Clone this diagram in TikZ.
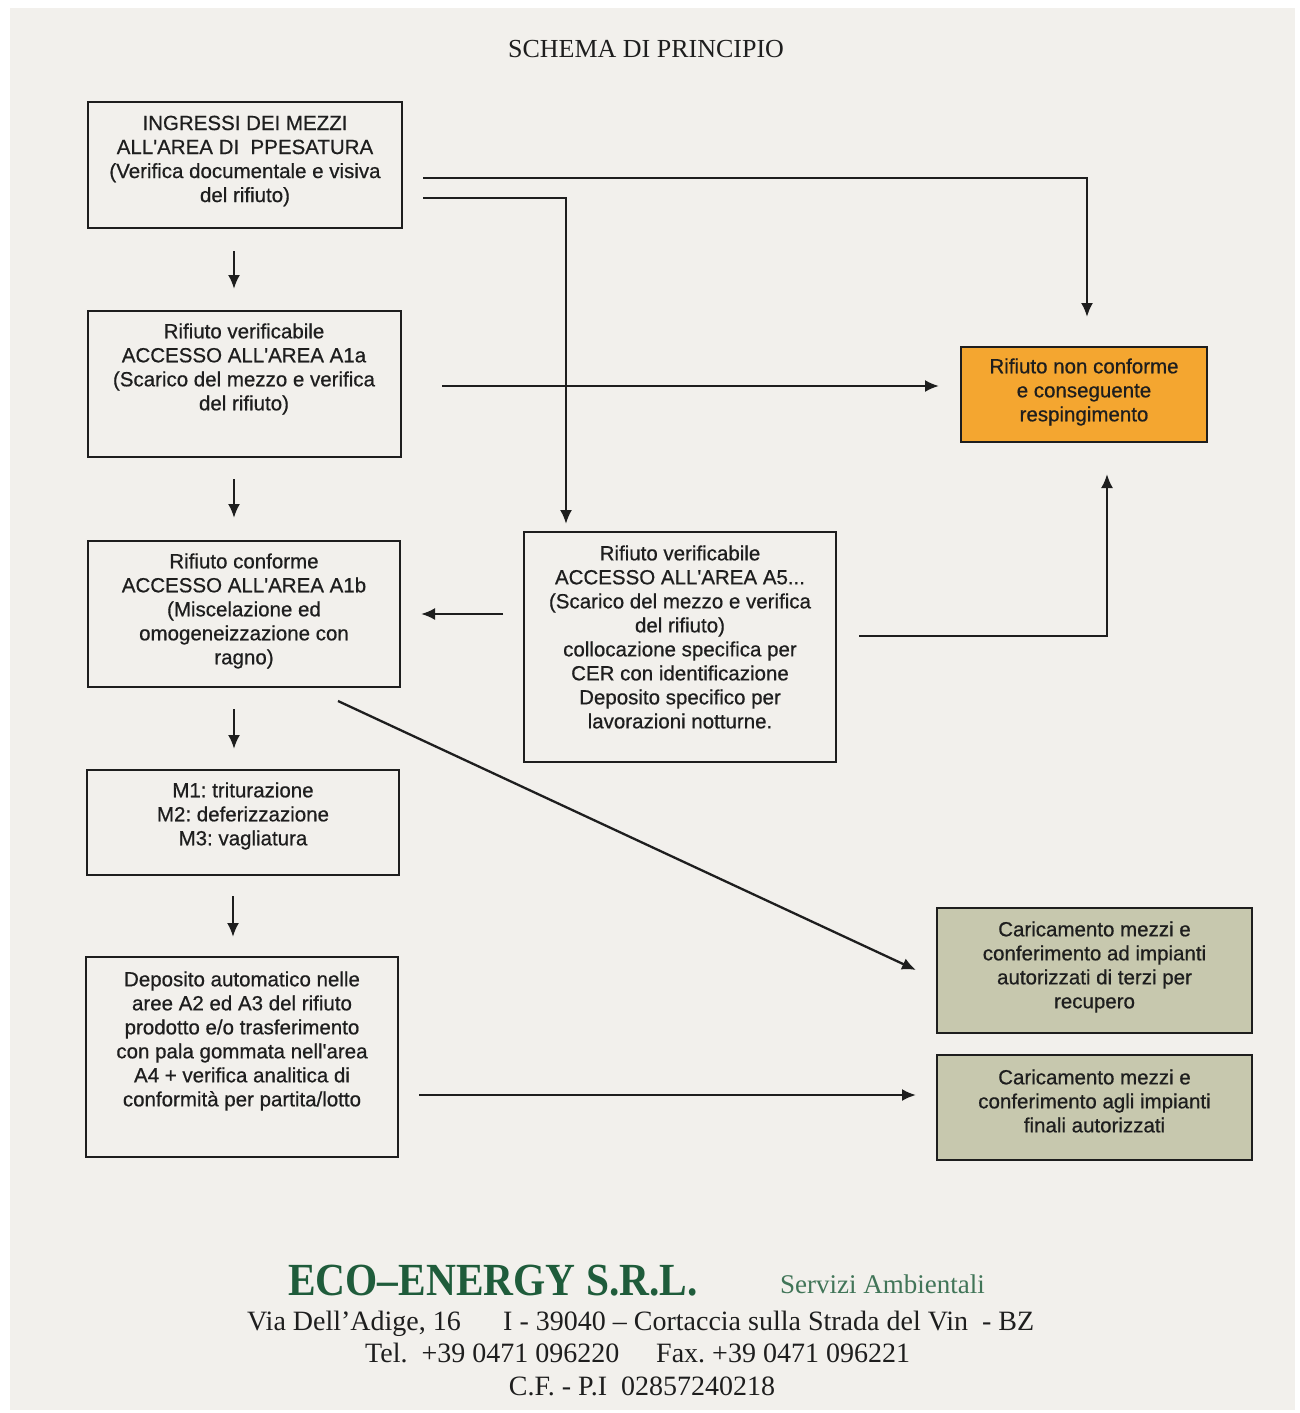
\documentclass[tikz,border=0pt]{standalone}
\usepackage{fontspec}
\setmainfont[FakeBold=0.6]{Liberation Sans}
\newfontfamily\boxfont[FakeBold=0.6]{Liberation Sans}
\newfontfamily\serifnm{Liberation Serif}
\newfontfamily\serifeco[FakeStretch=0.9]{Liberation Serif}
\usetikzlibrary{arrows.meta,calc}
\definecolor{page}{HTML}{F2F0EC}
\definecolor{orn}{HTML}{F4A630}
\definecolor{olive}{HTML}{C7C8AE}
\definecolor{ink}{HTML}{1E1E1E}
\definecolor{ecogreen}{HTML}{1F5C3B}
\frenchspacing
\begin{document}
\begin{tikzpicture}[x=1pt,y=-1pt,
  box/.style={draw=ink, line width=2pt, inner sep=0pt},
  txt/.style={align=center, font=\boxfont\fontsize{20.5}{24}\selectfont, text=ink, inner sep=0pt},
  arr/.style={draw=ink, line width=2.3pt, -{Latex[length=14pt,width=12pt]}},
  foot/.style={inner sep=0pt, text=ink, font=\serifnm\fontsize{28}{30}\selectfont}]
\useasboundingbox (0,0) rectangle (1300,1413);
\fill[white] (0,0) rectangle (1300,1413);
\fill[page] (10,8) rectangle (1295,1410);

\node[anchor=base, inner sep=0pt, text=ink, font=\serifnm\fontsize{26}{28}\selectfont] (title) at (646,58) {SCHEMA DI PRINCIPIO};

% boxes
\node[box, minimum width=314, minimum height=126] (b1) at (245,165) {};
\node[box, minimum width=313, minimum height=146] (b2) at (244.5,384) {};
\node[box, minimum width=312, minimum height=146] (b3) at (244,614) {};
\node[box, minimum width=312, minimum height=105] (b4) at (243,822.5) {};
\node[box, minimum width=312, minimum height=200] (b5) at (242,1057) {};
\node[box, minimum width=312, minimum height=230] (a5) at (680,647) {};
\node[box, fill=orn, minimum width=246, minimum height=95] (orn) at (1084,394.5) {};
\node[box, fill=olive, minimum width=315, minimum height=125] (g1) at (1094.5,970.5) {};
\node[box, fill=olive, minimum width=315, minimum height=105] (g2) at (1094.5,1107.5) {};

% texts
\node[txt] (t1) at (245,161) {INGRESSI DEI MEZZI\\ALL'AREA DI~~PPESATURA\\(Verifica documentale e visiva\\del rifiuto)};
\node[txt] (t2) at (244,369) {Rifiuto verificabile\\ACCESSO ALL'AREA A1a\\(Scarico del mezzo e verifica\\del rifiuto)};
\node[txt] (t3) at (244,611) {Rifiuto conforme\\ACCESSO ALL'AREA A1b\\(Miscelazione ed\\omogeneizzazione con\\ragno)};
\node[txt] (t4) at (243,816) {M1: triturazione\\M2: deferizzazione\\M3: vagliatura};
\node[txt] (t5) at (242,1041) {Deposito automatico nelle\\aree A2 ed A3 del rifiuto\\prodotto e/o trasferimento\\con pala gommata nell'area\\A4 + verifica analitica di\\conformità per partita/lotto};
\node[txt] (t6) at (680,637) {Rifiuto verificabile\\ACCESSO ALL'AREA A5...\\(Scarico del mezzo e verifica\\del rifiuto)\\collocazione specifica per\\CER con identificazione\\Deposito specifico per\\lavorazioni notturne.};
\node[txt] (t7) at (1084,392) {Rifiuto non conforme\\e conseguente\\respingimento};
\node[txt] (t8) at (1094.5,967) {Caricamento mezzi e\\conferimento ad impianti\\autorizzati di terzi per\\recupero};
\node[txt] (t9) at (1094.5,1101) {Caricamento mezzi e\\conferimento agli impianti\\finali autorizzati};

% vertical arrows
\draw[arr] ($(b1.south)+(-11,22)$) -- ($(b2.north)+(-10.5,-21)$);
\draw[arr] ($(b2.south)+(-10.5,21)$) -- ($(b3.north)+(-10,-22)$);
\draw[arr] ($(b3.south)+(-10,21)$) -- ($(b4.north)+(-9,-20)$);
\draw[arr] ($(b4.south)+(-10,20)$) -- ($(b5.north)+(-9,-19)$);

% other connectors
\draw[arr] ($(b1.east)+(20,13)$) -| ($(orn.north)+(3,-29)$);
\draw[arr] ($(b1.east)+(20,33)$) -| ($(a5.north)+(-114,-7)$);
\draw[arr] ($(b2.east)+(40,2)$) -- ($(orn.west)+(-21,-8.5)$);
\draw[arr] ($(a5.west)+(-20,-33)$) -- ($(b3.east)+(20,0)$);
\draw[arr] ($(a5.east)+(22,-11)$) -| ($(orn.south)+(23,31)$);
\draw[arr] ($(b3.south)+(94,13)$) -- ($(g1.west)+(-20,-0.5)$);
\draw[arr] ($(b5.east)+(20,38)$) -- ($(g2.west)+(-20,-12.5)$);

% footer
\node[anchor=base west, inner sep=0pt, text=ecogreen, font=\serifeco\bfseries\fontsize{46}{48}\selectfont] (eco) at (288,1295) {ECO–ENERGY S.R.L.};
\node[anchor=base west, inner sep=0pt, text=ecogreen!85!white, font=\serifnm\fontsize{27}{29}\selectfont] (serv) at (780,1293) {Servizi Ambientali};
\node[foot, anchor=base west] (addr1) at (247,1330) {Via Dell’Adige, 16};
\node[foot, anchor=base west] (addr2) at (503,1330) {I - 39040 – Cortaccia sulla Strada del Vin~~- BZ};
\node[foot, anchor=base west] (tel) at (365,1362) {Tel.~~+39 0471 096220};
\node[foot, anchor=base west] (fax) at (656,1362) {Fax. +39 0471 096221};
\node[foot, anchor=base] (cf) at (642,1395) {C.F. - P.I~~02857240218};
\end{tikzpicture}
\end{document}
